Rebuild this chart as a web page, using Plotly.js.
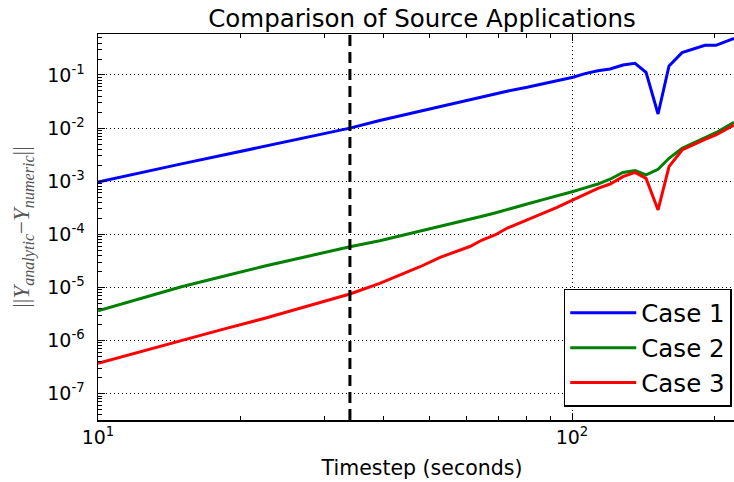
<!DOCTYPE html>
<html>
<head>
<meta charset="utf-8">
<script src="https://cdn.plot.ly/plotly-3.0.1.min.js"></script>
<style>
  html, body { margin: 0; padding: 0; background: #ffffff; overflow: hidden; }
  #chart { width: 746px; height: 482px; }
</style>
</head>
<body>
<div id="chart"></div>
<script>
// Timestep sizes (seconds)
const timesteps = [10, 12.3, 15, 18.4, 22.5, 27.3, 34, 39.3, 43.4, 47.8, 52.7, 58, 60.9, 64.6, 68.8, 72.9,
  80.4, 86.9, 93, 100.5, 106.5, 113.4, 120.3, 128.1, 135.8, 143.3, 151.9, 160.2, 170.7, 180, 190.8, 201.2, 219.7];

// Error norm ||Y_analytic - Y_numeric|| for each case
const case1 = [9.6e-4, 1.45e-3, 2.12e-3, 3.11e-3, 4.6e-3, 6.62e-3, 1.0e-2, 1.39e-2, 1.71e-2, 2.08e-2, 2.54e-2,
  3.1e-2, 3.46e-2, 3.94e-2, 4.47e-2, 4.95e-2, 5.87e-2, 6.83e-2, 7.85e-2, 9.09e-2, 0.106, 0.12, 0.13, 0.154,
  0.166, 0.112, 0.0184, 0.148, 0.263, 0.309, 0.362, 0.362, 0.491];
const case2 = [3.64e-6, 6.15e-6, 1.03e-5, 1.62e-5, 2.53e-5, 3.74e-5, 5.84e-5, 7.55e-5, 9.29e-5, 1.15e-4,
  1.43e-4, 1.74e-4, 1.92e-4, 2.18e-4, 2.52e-4, 2.88e-4, 3.72e-4, 4.49e-4, 5.26e-4, 6.4e-4, 7.48e-4, 8.85e-4,
  1.09e-3, 1.46e-3, 1.58e-3, 1.31e-3, 1.68e-3, 2.7e-3, 4.17e-3, 5.17e-3, 6.43e-3, 8.19e-3, 1.29e-2];
const case3 = [3.72e-7, 6.21e-7, 1.02e-6, 1.64e-6, 2.62e-6, 4.33e-6, 7.51e-6, 1.19e-5, 1.71e-5, 2.45e-5,
  3.69e-5, 5.06e-5, 5.89e-5, 7.81e-5, 9.7e-5, 1.3e-4, 1.86e-4, 2.55e-4, 3.22e-4, 4.43e-4, 5.64e-4, 7.35e-4,
  8.85e-4, 1.22e-3, 1.47e-3, 1.13e-3, 2.87e-4, 1.88e-3, 3.87e-3, 4.83e-3, 6.15e-3, 7.41e-3, 1.14e-2];

const seriesNames = ['Case 1', 'Case 2', 'Case 3'];
const seriesColors = ['#0000ff', '#008000', '#ff0000'];

// Reference timestep marked by the dashed vertical line
const markedTimestep = [34];

// Axis ticks
const xTickVals = [10, 100];
const xTickText = ['10<sup>1</sup>', '10<sup>2</sup>'];
const yTickExp = [-7, -6, -5, -4, -3, -2, -1];
const yTickVals = yTickExp.map(e => Math.pow(10, e));
const yTickText = yTickExp.map(e => '10<sup>' + e + '</sup>');

// Minor ticks at 2..9 within each decade
function minorTicks(lo, hi) {
  const out = [];
  for (let e = lo; e <= hi; e++) {
    for (let m = 2; m <= 9; m++) out.push(m * Math.pow(10, e));
  }
  return out;
}

const values = [case1, case2, case3];
const traces = values.map((ys, i) => ({
  x: timesteps,
  y: ys,
  name: seriesNames[i],
  type: 'scatter',
  mode: 'lines',
  line: { color: seriesColors[i], width: 3 },
  hoverinfo: 'skip'
}));

const axisCommon = {
  type: 'log',
  ticks: 'inside',
  ticklen: 7,
  tickwidth: 1,
  tickcolor: '#000',
  showline: true,
  linecolor: '#000',
  linewidth: 1.5,
  mirror: 'allticks',
  showgrid: true,
  gridcolor: '#000',
  gridwidth: 1,
  griddash: '1px,3px',
  tickfont: { family: 'DejaVu Sans', size: 19, color: '#000' },
  tickmode: 'array'
};

const layout = {
  width: 746,
  height: 482,
  margin: { l: 98, r: 0, t: 34, b: 62 },
  paper_bgcolor: '#ffffff',
  plot_bgcolor: '#ffffff',
  font: { family: 'DejaVu Sans', color: '#000' },
  title: {
    text: 'Comparison of Source Applications',
    font: { family: 'DejaVu Sans', size: 24.5, color: '#000' },
    x: 0.5, xref: 'paper', xanchor: 'center',
    y: 0.962, yref: 'container', yanchor: 'middle'
  },
  xaxis: Object.assign({}, axisCommon, {
    range: [1, 1 + 648 / 474],
    tickvals: xTickVals,
    ticktext: xTickText,
    minor: { tickvals: minorTicks(1, 2), ticks: 'inside', ticklen: 4, tickcolor: '#000', showgrid: false },
    title: { text: 'Timestep (seconds)', font: { family: 'DejaVu Sans', size: 20.5, color: '#000' }, standoff: 13 }
  }),
  yaxis: Object.assign({}, axisCommon, {
    range: [-7.497, -0.228],
    tickvals: yTickVals,
    ticktext: yTickText,
    ticklabelstandoff: 8,
    minor: { tickvals: minorTicks(-8, -1), ticks: 'inside', ticklen: 4, tickcolor: '#000', showgrid: false },
    title: {
      text: '||<i>Y</i><sub><i>analytic</i></sub>\u2212<i>Y</i><sub><i>numeric</i></sub>||',
      font: { family: 'Liberation Serif', size: 23, color: '#555' },
      standoff: 11
    }
  }),
  legend: {
    x: 0.978, y: 0.034, xanchor: 'right', yanchor: 'bottom',
    bgcolor: '#ffffff', bordercolor: '#000', borderwidth: 1.5,
    itemwidth: 66,
    font: { family: 'DejaVu Sans', size: 24.5, color: '#000' }
  },
  shapes: markedTimestep.map(t => ({
    type: 'line', xref: 'x', yref: 'paper',
    x0: t, x1: t, y0: 0, y1: 1,
    line: { color: '#000', width: 3, dash: '11px,6px' },
    layer: 'above'
  })),
  showlegend: true
};

Plotly.newPlot('chart', traces, layout, { displayModeBar: false, staticPlot: true });
</script>
</body>
</html>
